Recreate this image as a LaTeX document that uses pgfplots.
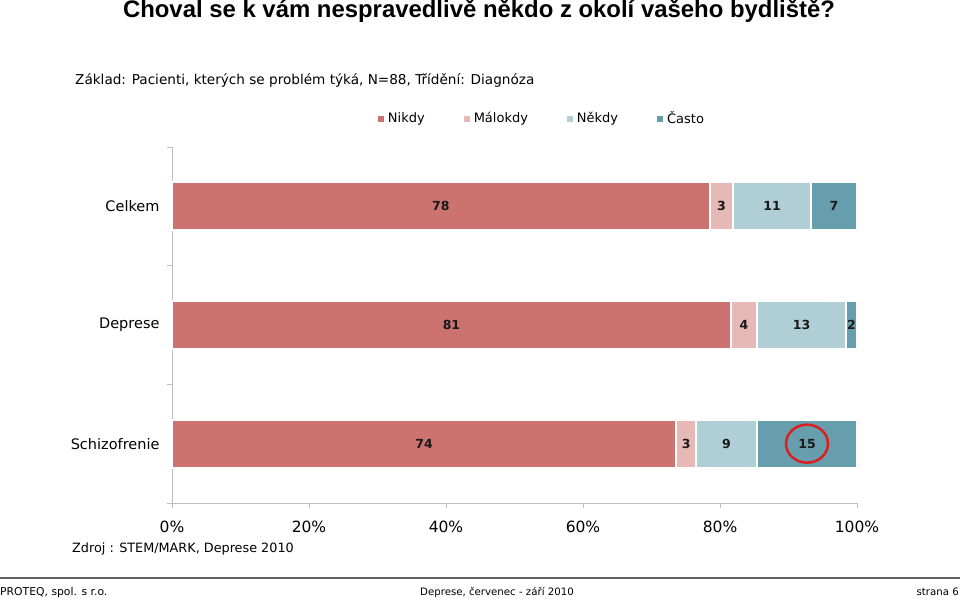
\documentclass[border=0pt]{standalone}
\usepackage{fontspec}
\setmainfont{DejaVu Sans}
\newfontfamily\titlefont{Liberation Sans}
\usepackage{pgfplots}
\pgfplotsset{compat=1.18}
\definecolor{nikdy}{HTML}{CC7370}
\definecolor{malokdy}{HTML}{E6B8B6}
\definecolor{nekdy}{HTML}{B0CED6}
\definecolor{casto}{HTML}{669EAD}
\definecolor{axgray}{HTML}{BFBFBF}
\begin{document}
\begin{tikzpicture}[x=1pt,y=1pt]
\path[use as bounding box] (0,0) rectangle (960,598);
\node[anchor=base, inner sep=0pt, font=\titlefont\bfseries\fontsize{23.9}{28}\selectfont] at (479,580.5) {Choval se k vám nespravedlivě někdo z okolí vašeho bydliště?};
\node[anchor=base west, inner sep=0pt, font=\fontsize{13.6}{16}\selectfont] at (75,513.5) {Základ: Pacienti, kterých se problém týká, N=88, Třídění: Diagnóza};
\begin{axis}[
  at={(172pt,95pt)}, anchor=south west, scale only axis,
  width=685pt, height=356pt,
  xbar stacked, bar width=48pt,
  xmin=0, xmax=100, ymin=0.5, ymax=3.5,
  axis lines*=left,
  axis line style={draw=axgray, line width=0.9pt, -},
  xtick={0,20,40,60,80,100},
  xticklabels={0\%,20\%,40\%,60\%,80\%,100\%},
  ytick={0.5,1.5,2.5,3.5}, yticklabels={},
  tick align=outside, major tick length=5pt,
  tick style={draw=axgray, line width=0.9pt},
  /pgf/number format/assume math mode=true,
  xticklabel style={font=\fontsize{15.5}{18}\selectfont, yshift=-9pt},
  legend style={at={(0.5394,1.080)}, anchor=center, draw=none, fill=none,
    font=\fontsize{13}{15}\selectfont, legend columns=4,
    legend cell align=left,
    nodes={inner sep=1pt},
    /tikz/every odd column/.append style={column sep=3pt},
    /tikz/every even column/.append style={column sep=38pt}},
  legend image code/.code={\path[#1, draw=none] (0pt,-3pt) rectangle (6pt,3pt);},
]
\addplot[fill=nikdy, draw=white, line width=2pt] coordinates {(73.6,1) (81.6,2) (78.5,3)};
\addlegendentry{Nikdy}
\addplot[fill=malokdy, draw=white, line width=2pt] coordinates {(2.9,1) (3.8,2) (3.4,3)};
\addlegendentry{Málokdy}
\addplot[fill=nekdy, draw=white, line width=2pt] coordinates {(8.9,1) (13.0,2) (11.4,3)};
\addlegendentry{Někdy}
\addplot[fill=casto, draw=white, line width=2pt] coordinates {(14.6,1) (1.6,2) (6.7,3)};
\addlegendentry{Často}
\end{axis}
\begin{axis}[
  at={(172pt,95pt)}, anchor=south west, scale only axis,
  width=685pt, height=356pt,
  xmin=0, xmax=100, ymin=0.5, ymax=3.5,
  axis lines*=left, axis line style={draw=none},
  xtick=\empty,
  ytick={1,2,3}, yticklabels={Schizofrenie,Deprese,Celkem},
  major tick length=0pt,
  yticklabel style={font=\fontsize{14.5}{17}\selectfont, xshift=-9pt},
  clip=false,
]
\addplot[draw=none, mark=none, nodes near coords, point meta=explicit symbolic,
  nodes near coords style={anchor=center, font=\bfseries\fontsize{12.5}{14}\selectfont, text=black!90}]
  coordinates {
  (39.25,3) [78] (80.2,3) [3] (87.6,3) [11] (96.65,3) [7]
  (40.8,2) [81] (83.5,2) [4] (91.9,2) [13] (99.2,2) [2]
  (36.8,1) [74] (75.05,1) [3] (80.95,1) [9] (92.7,1) [15]
  };
\draw[draw={rgb,255:red,220;green,30;blue,30}, line width=2.5pt] (axis cs:92.7,1) ellipse [x radius=21pt, y radius=19pt];
\end{axis}
\node[anchor=base west, inner sep=0pt, font=\fontsize{12.8}{15}\selectfont] at (72,46) {Zdroj : STEM/MARK, Deprese 2010};
\draw[line width=2pt, black!62] (0,20) -- (960,20);
\node[anchor=base west, inner sep=0pt, font=\fontsize{10.8}{13}\selectfont] at (0,3) {PROTEQ, spol. s r.o.};
\node[anchor=base, inner sep=0pt, font=\fontsize{10.2}{13}\selectfont] at (497,3) {Deprese, červenec - září 2010};
\node[anchor=base east, inner sep=0pt, font=\fontsize{10.2}{13}\selectfont] at (959,3) {strana 6};
\end{tikzpicture}
\end{document}
